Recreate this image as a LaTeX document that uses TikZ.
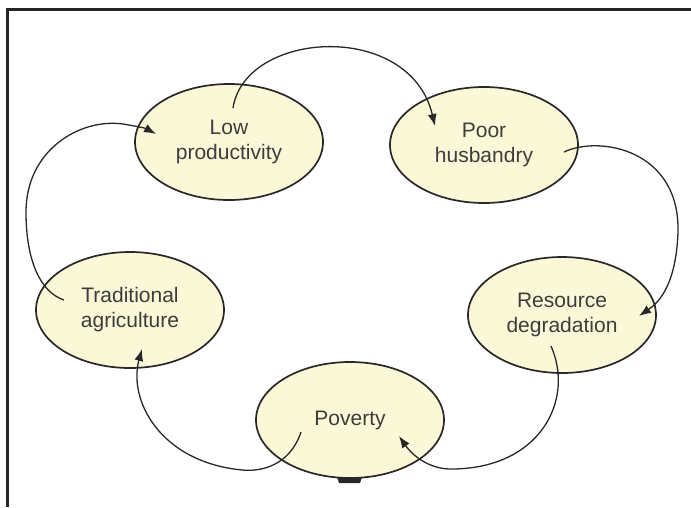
\documentclass[tikz,border=0pt]{standalone}
\usepackage{fontspec}
\setmainfont{Liberation Sans}
\usetikzlibrary{arrows.meta,shapes.geometric}
\definecolor{cream}{RGB}{251,248,216}
\definecolor{ink}{RGB}{40,40,40}
\begin{document}
\begin{tikzpicture}[x=1pt,y=-1pt,
  bubble/.style={ellipse, draw=ink, line width=1.7pt, fill=cream, minimum width=188pt, minimum height=116pt, inner sep=0pt, align=center, text=ink!90, font=\fontsize{21}{25}\selectfont},
  link/.style={draw=ink, line width=1.3pt, -{Latex[length=12pt,width=9pt]}}]
\useasboundingbox (0,0) rectangle (691,507);
\fill[white] (0,0) rectangle (691,507);
\draw[line width=2.5pt, black!85] (7.5,507) -- (7.5,9.5) -- (691,9.5);
\node[bubble] (lp) at (229,142) {Low\\productivity};
\node[bubble] (ph) at (484,145) {Poor\\husbandry};
\node[bubble] (ta) at (130,310) {Traditional\\agriculture};
\node[bubble] (rd) at (562,315) {Resource\\degradation};
\node[bubble] (pv) at (350,420) {Poverty};
\fill[ink] (337,477) -- (362,477) -- (360,483) -- (339,483) -- cycle;
% connectors
\coordinate (s1) at (233,108); \coordinate (e1) at (435,126);
\coordinate (s2) at (564,152); \coordinate (m2) at (678,232); \coordinate (e2) at (639,316);
\coordinate (s3) at (551,346); \coordinate (m3) at (449,469); \coordinate (e3) at (399,436);
\coordinate (s4) at (301,432); \coordinate (m4) at (242,470); \coordinate (e4) at (142,349);
\coordinate (s5) at (64,300); \coordinate (m5) at (26,212); \coordinate (n5) at (123,124); \coordinate (e5) at (156,134);
\draw[link] (s1) .. controls (245,30) and (410,20) .. (e1);
\draw[link] (s2) .. controls (600,135) and (680,150) .. (m2) .. controls (676,290) and (655,305) .. (e2);
\draw[link] (s3) .. controls (575,400) and (540,470) .. (m3) .. controls (425,468) and (410,452) .. (e3);
\draw[link] (s4) .. controls (290,465) and (262,472) .. (m4) .. controls (160,462) and (128,400) .. (e4);
\draw[link] (s5) .. controls (40,292) and (26,260) .. (m5) .. controls (26,150) and (80,118) .. (n5) .. controls (135,126) and (145,128) .. (e5);
\end{tikzpicture}
\end{document}
